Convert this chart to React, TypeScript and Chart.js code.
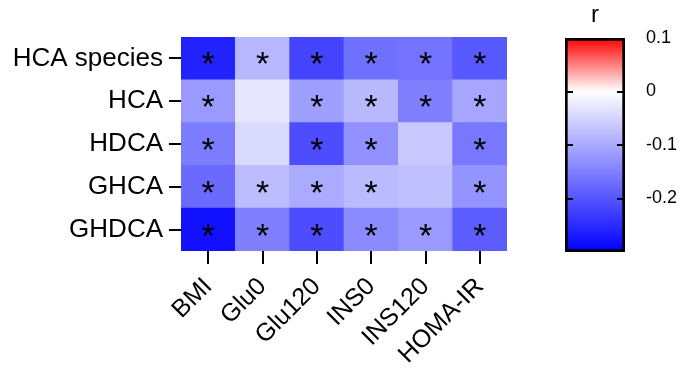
import React, { useEffect, useRef } from "react";
import { Chart, registerables } from "chart.js";

Chart.register(...registerables);

const columns = ["BMI", "Glu0", "Glu120", "INS0", "INS120", "HOMA-IR"];
const rows = ["HCA species", "HCA", "HDCA", "GHCA", "GHDCA"];

const hcaSpecies = [-0.26, -0.085, -0.22, -0.168, -0.165, -0.196];
const hca = [-0.12, -0.03, -0.113, -0.083, -0.15, -0.105];
const hdca = [-0.154, -0.043, -0.21, -0.13, -0.065, -0.16];
const ghca = [-0.175, -0.079, -0.1, -0.081, -0.074, -0.126];
const ghdca = [-0.28, -0.15, -0.21, -0.137, -0.12, -0.19];

const sigHcaSpecies = [1, 1, 1, 1, 1, 1];
const sigHca = [1, 0, 1, 1, 1, 1];
const sigHdca = [1, 0, 1, 1, 0, 1];
const sigGhca = [1, 1, 1, 1, 0, 1];
const sigGhdca = [1, 1, 1, 1, 1, 1];

const colorbarTicks = [0.1, 0, -0.1, -0.2];
const colorMin = -0.3;
const colorMax = 0.1;

const FONT = "'Liberation Sans', Arial, sans-serif";

function colorFor(v: number): string {
  if (v < 0) {
    const t = Math.min(1, -v / -colorMin);
    const c = Math.round(255 * (1 - t));
    return `rgb(${c},${c},255)`;
  }
  const t = Math.min(1, v / colorMax);
  const c = Math.round(255 * (1 - t));
  return `rgb(255,${c},${c})`;
}

const valuesTopDown = [hcaSpecies, hca, hdca, ghca, ghdca];
const sigTopDown = [sigHcaSpecies, sigHca, sigHdca, sigGhca, sigGhdca];
const rowsBottomUp = [...rows].reverse();
const valuesBottomUp = [...valuesTopDown].reverse();
const sigBottomUp = [...sigTopDown].reverse();

export default function App() {
  const mainRef = useRef<HTMLCanvasElement>(null);
  const barRef = useRef<HTMLCanvasElement>(null);

  useEffect(() => {
    document.body.style.margin = "0";
    const starPlugin = {
      id: "stars",
      afterDatasetsDraw(chart: any) {
        const ctx = chart.ctx;
        ctx.save();
        ctx.fillStyle = "#000";
        ctx.font = `34px ${FONT}`;
        ctx.textAlign = "center";
        ctx.textBaseline = "alphabetic";
        const m = ctx.measureText("*");
        const asc = m.actualBoundingBoxAscent;
        const desc = m.actualBoundingBoxDescent;
        chart.data.datasets.forEach((ds: any, i: number) => {
          const meta = chart.getDatasetMeta(i);
          meta.data.forEach((el: any, j: number) => {
            if (!sigBottomUp[i][j]) return;
            const cx = el.x;
            const cy = (el.y + el.base) / 2;
            ctx.fillText("*", cx, cy + (asc - desc) / 2);
          });
        });
        ctx.restore();
      },
    };

    const main = new Chart(mainRef.current!, {
      type: "bar",
      data: {
        labels: columns,
        datasets: rowsBottomUp.map((r, i) => ({
          label: r,
          data: columns.map(() => 1),
          backgroundColor: valuesBottomUp[i].map(colorFor),
          borderWidth: 0,
          barPercentage: 1,
          categoryPercentage: 1,
        })),
      },
      options: {
        animation: false,
        responsive: false,
        layout: { padding: { left: 0, top: 37, right: 23, bottom: 0 } },
        plugins: { legend: { display: false }, tooltip: { enabled: false } },
        scales: {
          x: {
            type: "category",
            stacked: true,
            offset: true,
            grid: {
              offset: false,
              drawOnChartArea: false,
              drawTicks: true,
              tickLength: 13,
              color: "#000",
              lineWidth: 2,
            },
            border: { display: false },
            ticks: {
              font: { size: 25, family: FONT },
              color: "#000",
              minRotation: 45,
              maxRotation: 45,
              autoSkip: false,
              padding: 8,
            },
            afterFit: (s: any) => {
              s.height = 117;
            },
          },
          y: {
            type: "linear",
            stacked: true,
            min: 0,
            max: 5,
            afterBuildTicks: (s: any) => {
              s.ticks = rowsBottomUp.map((_, i) => ({ value: i + 0.5 }));
            },
            grid: {
              drawOnChartArea: false,
              drawTicks: true,
              tickLength: 12,
              color: "#000",
              lineWidth: 2,
            },
            border: { display: false },
            ticks: {
              font: { size: 26, family: FONT },
              color: "#000",
              padding: 6,
              callback: (v: any) => rowsBottomUp[Math.floor(Number(v))],
            },
            afterFit: (s: any) => {
              s.width = 181;
            },
          },
        },
      },
      plugins: [starPlugin],
    } as any);

    const barPlugin = {
      id: "cbExtras",
      afterDraw(chart: any) {
        const ctx = chart.ctx;
        const area = chart.chartArea;
        const y = chart.scales.y;
        ctx.save();
        ctx.strokeStyle = "#000";
        ctx.lineWidth = 2;
        [0, -0.1, -0.2].forEach((v) => {
          const py = Math.round(y.getPixelForValue(v));
          ctx.beginPath();
          ctx.moveTo(area.left, py);
          ctx.lineTo(area.left + 8, py);
          ctx.moveTo(area.right - 8, py);
          ctx.lineTo(area.right, py);
          ctx.stroke();
        });
        ctx.fillStyle = "#000";
        ctx.font = `24px ${FONT}`;
        ctx.textAlign = "center";
        ctx.textBaseline = "alphabetic";
        ctx.fillText("r", (area.left + area.right) / 2, 22);
        ctx.restore();
      },
    };

    const bar = new Chart(barRef.current!, {
      type: "bar",
      data: {
        labels: ["r"],
        datasets: [
          {
            data: [[colorMin, colorMax]],
            backgroundColor: (c: any) => {
              const chart = c.chart;
              if (!chart.chartArea) return "#fff";
              const ys = chart.scales.y;
              const top = ys.getPixelForValue(colorMax);
              const bottom = ys.getPixelForValue(colorMin);
              const g = chart.ctx.createLinearGradient(0, top, 0, bottom);
              const zeroStop = colorMax / (colorMax - colorMin);
              g.addColorStop(0, "rgb(255,0,0)");
              g.addColorStop(zeroStop, "rgb(255,255,255)");
              g.addColorStop(1, "rgb(0,0,255)");
              return g;
            },
            borderColor: "#000",
            borderWidth: 3,
            borderSkipped: false,
            barPercentage: 1,
            categoryPercentage: 1,
          },
        ],
      },
      options: {
        animation: false,
        responsive: false,
        layout: { padding: { left: 35, top: 38, right: 0, bottom: 116 } },
        plugins: { legend: { display: false }, tooltip: { enabled: false } },
        scales: {
          x: { display: false },
          y: {
            position: "right",
            min: colorMin,
            max: colorMax,
            afterBuildTicks: (s: any) => {
              s.ticks = colorbarTicks.map((v) => ({ value: v }));
            },
            grid: { display: false, drawTicks: false },
            border: { display: false },
            ticks: {
              font: { size: 18, family: FONT },
              color: "#000",
              padding: 21,
              callback: (v: any) => {
                const n = Number(v);
                return Math.abs(n) < 1e-9 ? "0" : n.toFixed(1);
              },
            },
            afterFit: (s: any) => {
              s.width = 57;
            },
          },
        },
      },
      plugins: [barPlugin],
    } as any);

    return () => {
      main.destroy();
      bar.destroy();
    };
  }, []);

  return (
    <div style={{ position: "absolute", left: 0, top: 0, width: 682, height: 368, background: "#fff" }}>
      <canvas ref={mainRef} width={530} height={368} style={{ position: "absolute", left: 0, top: 0 }} />
      <canvas ref={barRef} width={152} height={368} style={{ position: "absolute", left: 530, top: 0 }} />
    </div>
  );
}
